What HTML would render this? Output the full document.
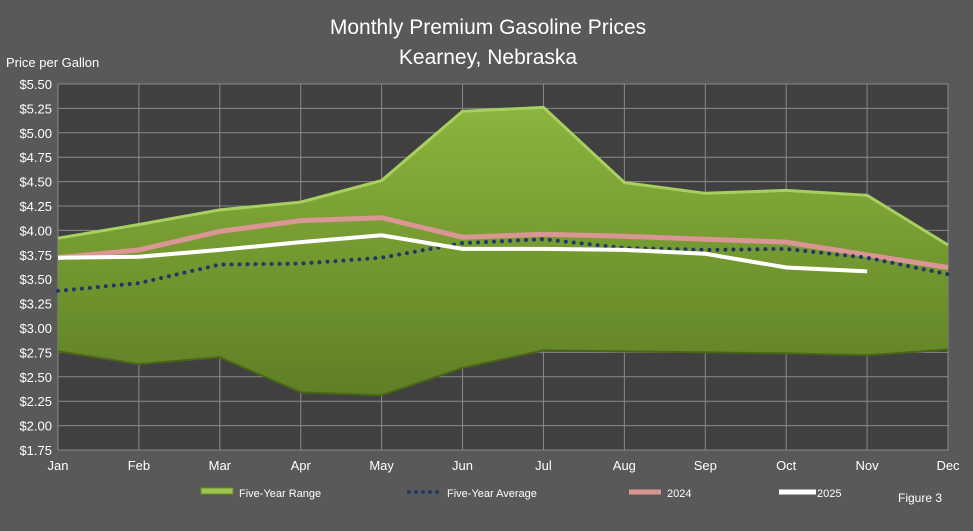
<!DOCTYPE html>
<html><head><meta charset="utf-8"><style>
body{margin:0;background:#595959;}
svg{display:block;font-family:"Liberation Sans",sans-serif;}
</style></head><body>
<svg id="s" width="973" height="531" xmlns="http://www.w3.org/2000/svg">
<defs>
<linearGradient id="g" x1="0" y1="0" x2="0" y2="1">
<stop offset="0" stop-color="#8cb43e"/><stop offset="1" stop-color="#5e7f24"/>
</linearGradient>
</defs>
<rect width="973" height="531" fill="#595959"/>
<rect x="58" y="84" width="890" height="366" fill="#404040"/>
<g id="grid" stroke="#8a8a8a" stroke-width="1"></g>
<g id="plot"></g>
<text x="488" y="34" fill="#fff" font-size="21" text-anchor="middle">Monthly Premium Gasoline Prices</text>
<text x="488" y="64" fill="#fff" font-size="21" text-anchor="middle">Kearney, Nebraska</text>
<text x="6" y="67" fill="#fff" font-size="13">Price per Gallon</text>
<g id="lab" fill="#fff" font-size="13"></g>
<rect x="201" y="488" width="32" height="6" fill="#9cc450" stroke="#6a8a2a"/>
<text x="239" y="497" fill="#fff" font-size="11">Five-Year Range</text>
<line x1="409" y1="492" x2="441" y2="492" stroke="#1f3864" stroke-width="4" stroke-dasharray="0 7" stroke-linecap="round"/>
<text x="447" y="497" fill="#fff" font-size="11">Five-Year Average</text>
<line x1="629" y1="492" x2="661" y2="492" stroke="#d99694" stroke-width="5"/>
<text x="667" y="497" fill="#fff" font-size="11">2024</text>
<line x1="779" y1="492" x2="816" y2="492" stroke="#fff" stroke-width="5"/>
<text x="817" y="497" fill="#fff" font-size="11">2025</text>
<text x="898" y="502" fill="#fff" font-size="12">Figure 3</text>
</svg>
<script>
const X=i=>58+i*890/11, Y=v=>84+(5.5-v)*97.6;
const up=[3.92,4.06,4.21,4.29,4.51,5.22,5.26,4.49,4.38,4.41,4.36,3.85];
const lo=[2.76,2.63,2.70,2.34,2.31,2.59,2.77,2.76,2.75,2.74,2.72,2.78];
const av=[3.38,3.46,3.65,3.66,3.72,3.87,3.91,3.82,3.80,3.81,3.72,3.55];
const a24=[3.72,3.80,3.99,4.10,4.13,3.93,3.96,3.94,3.91,3.88,3.75,3.62];
const a25=[3.72,3.73,3.80,3.88,3.95,3.81,3.81,3.80,3.76,3.62,3.58];
const m=["Jan","Feb","Mar","Apr","May","Jun","Jul","Aug","Sep","Oct","Nov","Dec"];
const pts=a=>a.map((v,i)=>X(i).toFixed(1)+","+Y(v).toFixed(1)).join(" ");
let g="",l="";
for(let k=0;k<=15;k++){const v=1.75+k*0.25,y=Y(v);g+=`<line x1="58" x2="948" y1="${y}" y2="${y}"/>`;l+=`<text x="52" y="${y+5}" text-anchor="end">$${v.toFixed(2)}</text>`;}
for(let i=0;i<12;i++){g+=`<line x1="${X(i)}" x2="${X(i)}" y1="84" y2="450"/>`;l+=`<text x="${X(i)}" y="470" text-anchor="middle">${m[i]}</text>`;}
document.getElementById("grid").innerHTML=g;
document.getElementById("lab").innerHTML=l;
const poly=pts(up)+" "+pts(lo.slice().reverse().map((v,i)=>v)).split(" ").reverse().join(" ");
let lop=lo.map((v,i)=>X(i).toFixed(1)+","+Y(v).toFixed(1)).reverse().join(" ");
document.getElementById("plot").innerHTML=
`<polygon points="${pts(up)} ${lop}" fill="url(#g)"/>`+
`<polyline points="${pts(up)}" fill="none" stroke="#a8d060" stroke-width="3"/>`+
`<polyline points="${pts(lo)}" fill="none" stroke="#4a6418" stroke-width="2"/>`+
`<polyline points="${pts(a24)}" fill="none" stroke="#d99694" stroke-width="5"/>`+
`<polyline points="${pts(av)}" fill="none" stroke="#1f3864" stroke-width="4" stroke-dasharray="0 8" stroke-linecap="round"/>`+
`<polyline points="${pts(a25)}" fill="none" stroke="#fff" stroke-width="4"/>`;
</script>
</body></html>
